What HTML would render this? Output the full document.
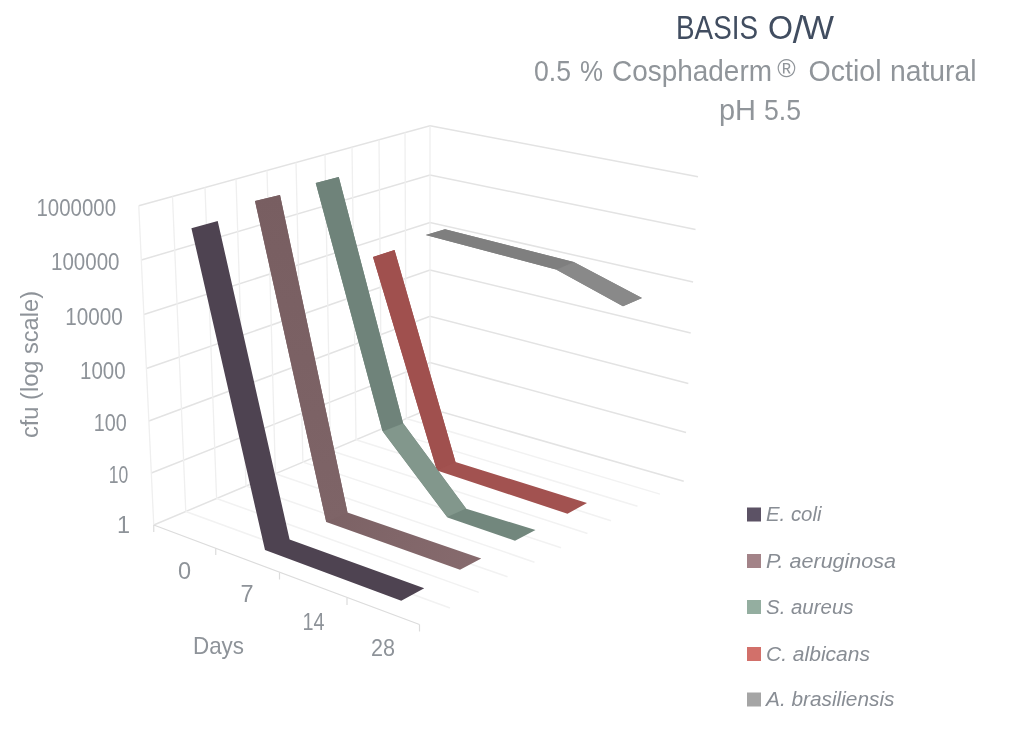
<!DOCTYPE html>
<html><head><meta charset="utf-8"><title>BASIS O/W</title>
<style>
html,body{margin:0;padding:0;background:#fff;}
svg{display:block}
text{font-family:"Liberation Sans",sans-serif;}
</style></head><body>
<svg width="1024" height="737" viewBox="0 0 1024 737">
<defs><linearGradient id="gp" x1="0" y1="0" x2="0" y2="1"><stop offset="0" stop-color="#785e61"/><stop offset="1" stop-color="#7e6467"/></linearGradient><linearGradient id="gq" gradientUnits="userSpaceOnUse" x1="330" y1="515" x2="470" y2="565"><stop offset="0" stop-color="#7c6265"/><stop offset="1" stop-color="#866a6d"/></linearGradient></defs>
<rect width="1024" height="737" fill="#ffffff"/>
<g fill="none" stroke="#e3e3e3" stroke-width="1.5">
<polyline points="138.75,205.75 430.00,125.75 698.00,176.75"/>
<polyline points="141.30,260.00 430.00,175.00 695.53,229.50"/>
<polyline points="143.86,314.50 430.00,222.50 693.07,282.00"/>
<polyline points="146.40,368.50 430.00,270.00 690.69,333.00"/>
<polyline points="148.86,421.00 430.00,316.25 688.32,383.50"/>
<polyline points="151.31,473.00 430.00,362.50 686.03,432.50"/>
<polyline points="153.75,525.00 430.00,408.50 683.75,481.25"/>
</g>
<g fill="none" stroke="#efefef" stroke-width="1.3">
<line x1="138.75" y1="205.75" x2="153.75" y2="525.00"/>
<line x1="172.50" y1="196.48" x2="185.76" y2="511.50"/>
<line x1="205.00" y1="187.55" x2="216.59" y2="498.50"/>
<line x1="236.00" y1="179.04" x2="245.99" y2="486.10"/>
<line x1="267.00" y1="170.52" x2="275.39" y2="473.70"/>
<line x1="296.00" y1="162.56" x2="302.90" y2="462.10"/>
<line x1="325.00" y1="154.59" x2="330.41" y2="450.50"/>
<line x1="352.00" y1="147.17" x2="356.02" y2="439.70"/>
<line x1="379.00" y1="139.76" x2="381.63" y2="428.90"/>
<line x1="405.00" y1="132.62" x2="406.29" y2="418.50"/>
<line x1="430.00" y1="125.75" x2="430.00" y2="408.50"/>
</g>
<g fill="none" stroke="#f2f2f2" stroke-width="1.5">
<line x1="185.76" y1="511.50" x2="450.00" y2="608.00"/>
<line x1="216.59" y1="498.50" x2="478.75" y2="592.40"/>
<line x1="245.99" y1="486.10" x2="507.50" y2="576.80"/>
<line x1="275.39" y1="473.70" x2="534.50" y2="562.20"/>
<line x1="302.90" y1="462.10" x2="561.00" y2="547.80"/>
<line x1="330.41" y1="450.50" x2="587.50" y2="533.50"/>
<line x1="356.02" y1="439.70" x2="611.00" y2="520.70"/>
<line x1="381.63" y1="428.90" x2="637.50" y2="506.30"/>
<line x1="406.29" y1="418.50" x2="660.00" y2="494.10"/>
</g>
<g fill="none" stroke="#dcdcdc" stroke-width="1.2">
<line x1="153.75" y1="525" x2="419.5" y2="624.5"/>
<line x1="153.75" y1="525" x2="153.75" y2="532"/>
<line x1="215.75" y1="548" x2="215.75" y2="555"/>
<line x1="279.5" y1="572.5" x2="279.5" y2="579.5"/>
<line x1="347" y1="598" x2="347" y2="605"/>
<line x1="419.5" y1="624.5" x2="419.5" y2="631.5"/>
</g>

<!-- A. brasiliensis -->
<polygon points="425.75,235 445,229.25 573.75,262 642,298 623,306.25 556,269.5" fill="#848484"/>
<polygon points="425.75,235 445,229.25 573.75,262 556,269.5" fill="#7f7f7f"/>
<polygon points="556.6,269.8 574.2,262.3 642,298 623,306.25" fill="#898989"/>
<!-- C. albicans -->
<polygon points="373,257 394.5,250 455.5,462 587,503 567.5,513.75 437,470.5" fill="#a25250"/>
<polygon points="373,257 394.5,250 455.5,462 437,470.5" fill="#a0504e"/>
<!-- S. aureus -->
<polygon points="315.75,183 338.75,177 403,423 466.25,508.75 535.5,530 515,540.75 447.5,517.5 382.5,431" fill="#72877d"/>
<polygon points="315.75,183 338.75,177 403,423 382.5,431" fill="#6f837a"/>
<polygon points="382.8,431.5 403.3,423.5 466,508.4 447.2,517.1" fill="#82978c"/>
<!-- P. aeruginosa -->
<polygon points="255,201 280,195 347.5,512.5 481.25,558.5 460,569.75 326.25,522" fill="url(#gq)"/>
<polygon points="255,201 280,195 347.5,512.5 326.25,522" fill="url(#gp)"/>
<!-- E. coli -->
<polygon points="191.4,228.2 217.7,221 289.6,539.4 424.25,588.25 401.25,600.75 265,550" fill="#4e4351"/>

<g fill="#8e9399" font-size="23.5" text-anchor="end">
<text x="116" y="215.6" textLength="79.5" lengthAdjust="spacingAndGlyphs">1000000</text>
<text x="119.5" y="269.8" textLength="68.5" lengthAdjust="spacingAndGlyphs">100000</text>
<text x="122.8" y="325.2" textLength="57.5" lengthAdjust="spacingAndGlyphs">10000</text>
<text x="125.6" y="379.2" textLength="45.5" lengthAdjust="spacingAndGlyphs">1000</text>
<text x="126.8" y="430.8" textLength="33" lengthAdjust="spacingAndGlyphs">100</text>
<text x="128.2" y="482.9" textLength="19.5" lengthAdjust="spacingAndGlyphs">10</text>
<text x="130" y="533">1</text>
</g>
<g fill="#8e9399" font-size="23.5" text-anchor="middle">
<text x="184.5" y="578.5">0</text>
<text x="247" y="602">7</text>
<text x="313.5" y="629.5" textLength="22" lengthAdjust="spacingAndGlyphs">14</text>
<text x="383" y="656" textLength="24" lengthAdjust="spacingAndGlyphs">28</text>
<text x="218.5" y="654" font-size="24" textLength="51" lengthAdjust="spacingAndGlyphs">Days</text>
<text transform="translate(37.5,364.5) rotate(-90)" font-size="23" textLength="147" lengthAdjust="spacingAndGlyphs">cfu (log scale)</text>
</g>
<g font-size="33" fill="#414d60">
<text x="676" y="39" textLength="82" lengthAdjust="spacingAndGlyphs">BASIS</text>
<text x="768" y="39" textLength="25" lengthAdjust="spacingAndGlyphs">O</text>
<text x="792.8" y="42.6" font-size="38" font-weight="normal">/</text>
<text x="802" y="39" textLength="32" lengthAdjust="spacingAndGlyphs">W</text>
</g>
<g font-size="29" fill="#90959a">
<text x="534" y="80.5" textLength="37" lengthAdjust="spacingAndGlyphs">0.5</text>
<text x="580" y="80.5" textLength="23" lengthAdjust="spacingAndGlyphs">%</text>
<text x="612" y="80.5" textLength="160" lengthAdjust="spacingAndGlyphs">Cosphaderm</text>
<text x="777.2" y="77.3" font-size="25">®</text>
<text x="808.5" y="80.5" textLength="73" lengthAdjust="spacingAndGlyphs">Octiol</text>
<text x="890" y="80.5" textLength="86.5" lengthAdjust="spacingAndGlyphs">natural</text>
<text x="719" y="120.3" textLength="37" lengthAdjust="spacingAndGlyphs">pH</text>
<text x="764" y="120.3" textLength="37" lengthAdjust="spacingAndGlyphs">5.5</text>
</g>
<g>
<rect x="747" y="507.5" width="14" height="14" fill="#5c5265"/>
<rect x="747" y="554" width="14" height="14" fill="#a38388"/>
<rect x="747" y="600" width="14" height="14" fill="#94aea0"/>
<rect x="747" y="647" width="14" height="14" fill="#d2706a"/>
<rect x="747" y="692.5" width="14" height="14" fill="#a5a5a5"/>
</g>
<g fill="#888d94" font-size="19.5" font-style="italic">
<text x="766" y="521.3" textLength="55.5" lengthAdjust="spacingAndGlyphs">E. coli</text>
<text x="766" y="567.8" textLength="130" lengthAdjust="spacingAndGlyphs">P. aeruginosa</text>
<text x="766" y="613.8" textLength="87.5" lengthAdjust="spacingAndGlyphs">S. aureus</text>
<text x="766" y="660.8" textLength="104" lengthAdjust="spacingAndGlyphs">C. albicans</text>
<text x="766" y="706.3" textLength="128.5" lengthAdjust="spacingAndGlyphs">A. brasiliensis</text>
</g>
</svg>
</body></html>
